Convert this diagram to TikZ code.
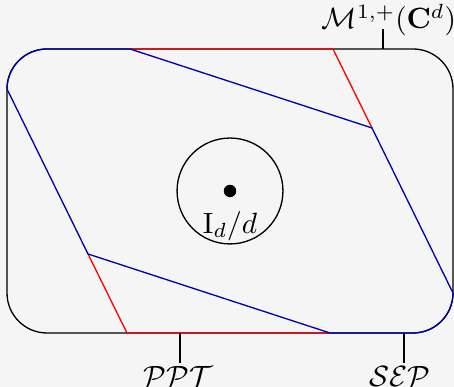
\documentclass[tikz,border=0pt]{standalone}
\usepackage{amsmath,amssymb}
\usetikzlibrary{positioning}
\definecolor{bgray}{RGB}{245,245,245}
\definecolor{sepblue}{RGB}{0,0,175}

\begin{document}
\begin{tikzpicture}[
  x=0.012cm, y=0.012cm,
  outline/.style={draw, line width=0.45pt},
  pptcut/.style={draw=red, line width=0.45pt},
  sepcut/.style={draw=sepblue, line width=0.45pt},
  tick/.style={draw, line width=0.45pt},
  setlabel/.style={inner sep=1pt}]
  \fill[bgray] (0,0) rectangle (454,387);
  \useasboundingbox (0,0) rectangle (454,387);
  % vertices of the two cuts
  \coordinate (a) at (7,298);
  \coordinate (p1) at (130,338);
  \coordinate (p2) at (333,338);
  \coordinate (q) at (372,259);
  \coordinate (r) at (453,94);
  \coordinate (s) at (330,54);
  \coordinate (t) at (127,54);
  \coordinate (u) at (88,133);
  % state space
  \draw[outline, rounded corners=0.48cm] (7,54) rectangle (453,338);
  % PPT
  \draw[pptcut] (p1) -- (p2) -- (q);
  \draw[pptcut] (u) -- (t) -- (s);
  % SEP
  \draw[sepcut] (a) arc[start angle=180, end angle=90, radius=0.48cm]
    -- (p1) -- (q) -- (r) arc[start angle=0, end angle=-90, radius=0.48cm]
    -- (s) -- (u) -- cycle;
  % ball around the maximally mixed state
  \node[draw, circle, minimum size=1.27cm, line width=0.45pt] (ball) at (230,196) {};
  \node[circle, fill, inner sep=1.5pt] (mixed) at (ball.center) {};
  \node[below=1pt of mixed] (mixedlabel) {$\mathrm{I}_d/d$};
  % labels
  \coordinate (mtick) at (383,338);
  \coordinate (ptick) at (180,54);
  \coordinate (stick) at (404,54);
  \node[anchor=base] (mlabel) at (389,358) {$\mathcal{M}^{1,+}(\mathbf{C}^d)$};
  \node[setlabel, anchor=north] (pptlabel) at (178,24) {$\mathcal{PPT}$};
  \node[setlabel, anchor=north] (seplabel) at (400,24) {$\mathcal{SEP}$};
  \draw[tick] (mtick) -- (mtick |- mlabel.base);
  \draw[tick] (ptick) -- (ptick |- pptlabel.north);
  \draw[tick] (stick) -- (stick |- seplabel.north);
\end{tikzpicture}
\end{document}
